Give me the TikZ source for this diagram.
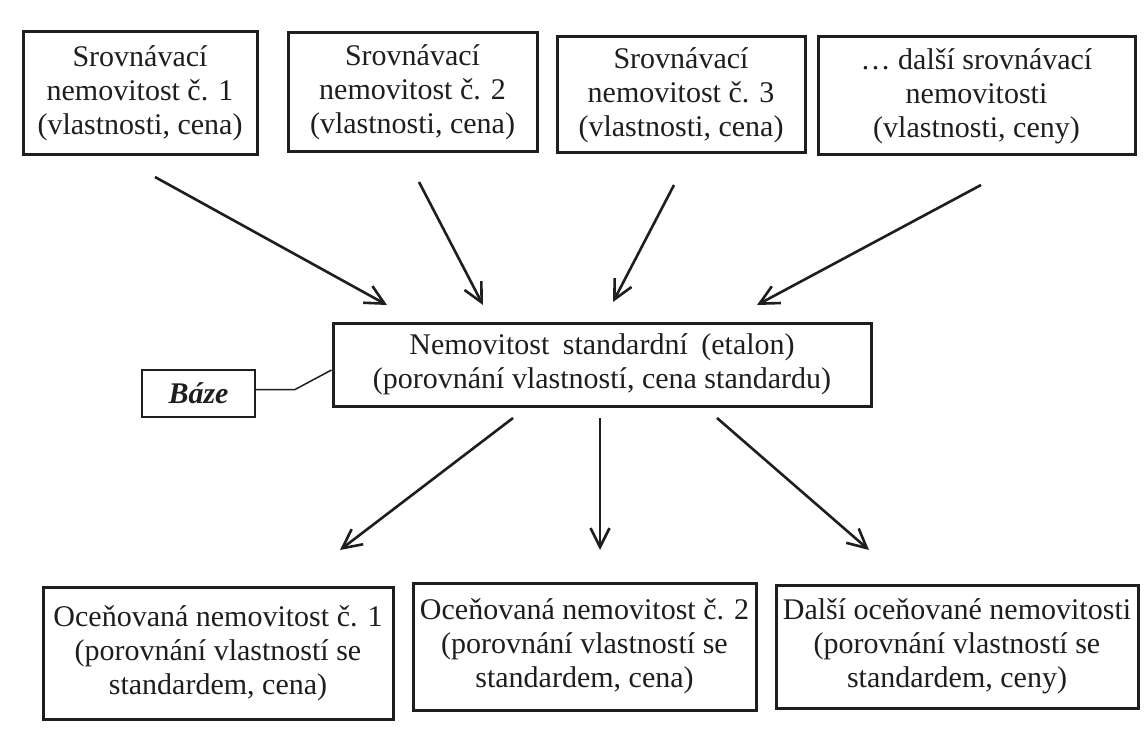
\documentclass[tikz,border=0pt]{standalone}
\usepackage{fontspec}
\setmainfont{Liberation Serif}
\usetikzlibrary{arrows.meta}
\definecolor{ink}{HTML}{1E1E1E}
\tikzset{
  box/.style={draw=ink, line width=3pt, inner sep=0pt, align=center, text=ink,
    font=\fontsize{30}{34}\selectfont},
  smallbox/.style={draw=ink, line width=1.5pt, inner sep=0pt, align=center, text=ink,
    font=\fontsize{30}{34}\selectfont\bfseries\itshape},
  arr/.style={draw=ink, line width=2.6pt, -{Straight Barb[length=19pt,width=19pt,line width=2.6pt]}},
  link/.style={draw=ink, line width=1.5pt}
}
\begin{document}
\begin{tikzpicture}[x=1pt,y=-1pt]
\useasboundingbox[fill=white] (0,0) rectangle (1145,738);
% top boxes
\node[box, minimum width=234pt, minimum height=123pt] (b1) at (140,93.5)
  {Srovnávací\\nemovitost č. 1\\(vlastnosti, cena)};
\node[box, minimum width=249pt, minimum height=119pt] (b2) at (412.5,92.5)
  {Srovnávací\\nemovitost č. 2\\(vlastnosti, cena)};
\node[box, minimum width=248pt, minimum height=116pt] (b3) at (681,95)
  {Srovnávací\\nemovitost č. 3\\(vlastnosti, cena)};
\node[box, minimum width=317pt, minimum height=118pt] (b4) at (976.5,96)
  {… další srovnávací\\nemovitosti\\(vlastnosti, ceny)};
% center
\node[box, minimum width=538pt, minimum height=83pt] (ctr) at (602,364.5)
  {Nemovitost\hspace{0.45em}standardní\hspace{0.45em}(etalon)\\(porovnání vlastností, cena standardu)};
\node[smallbox, minimum width=113pt, minimum height=47pt] (baze) at (198.5,393.5) {Báze};
% bottom boxes
\node[box, minimum width=350pt, minimum height=132pt] (o1) at (218,653)
  {Oceňovaná nemovitost č. 1\\(porovnání vlastností se\\standardem, cena)};
\node[box, minimum width=343pt, minimum height=127pt] (o2) at (584.5,646.5)
  {Oceňovaná nemovitost č. 2\\(porovnání vlastností se\\standardem, cena)};
\node[box, minimum width=362pt, minimum height=123pt] (o3) at (957,646.5)
  {Další oceňované nemovitosti\\(porovnání vlastností se\\standardem, ceny)};
% arrow end points
\coordinate (s1) at (155,177);   \coordinate (t1) at (387,305);
\coordinate (s2) at (419,182);   \coordinate (t2) at (483,305);
\coordinate (s3) at (674,185);   \coordinate (t3) at (613,302);
\coordinate (s4) at (981,185);   \coordinate (t4) at (757,305);
\coordinate (u1) at (513,418);   \coordinate (v1) at (340,550);
\coordinate (u2) at (600,418);   \coordinate (v2) at (600,550);
\coordinate (u3) at (717,418);   \coordinate (v3) at (869,550);
\draw[arr] (s1) -- (t1);
\draw[arr] (s2) -- (t2);
\draw[arr] (s3) -- (t3);
\draw[arr] (s4) -- (t4);
\draw[arr] (u1) -- (v1);
\draw[arr] (u2) -- (v2);
\draw[arr] (u3) -- (v3);
% Báze link
\coordinate (bk) at (295,389.5);
\draw[link] ([yshift=4pt]baze.east) -- (bk) -- ([yshift=-5.5pt]ctr.west);
\end{tikzpicture}
\end{document}
